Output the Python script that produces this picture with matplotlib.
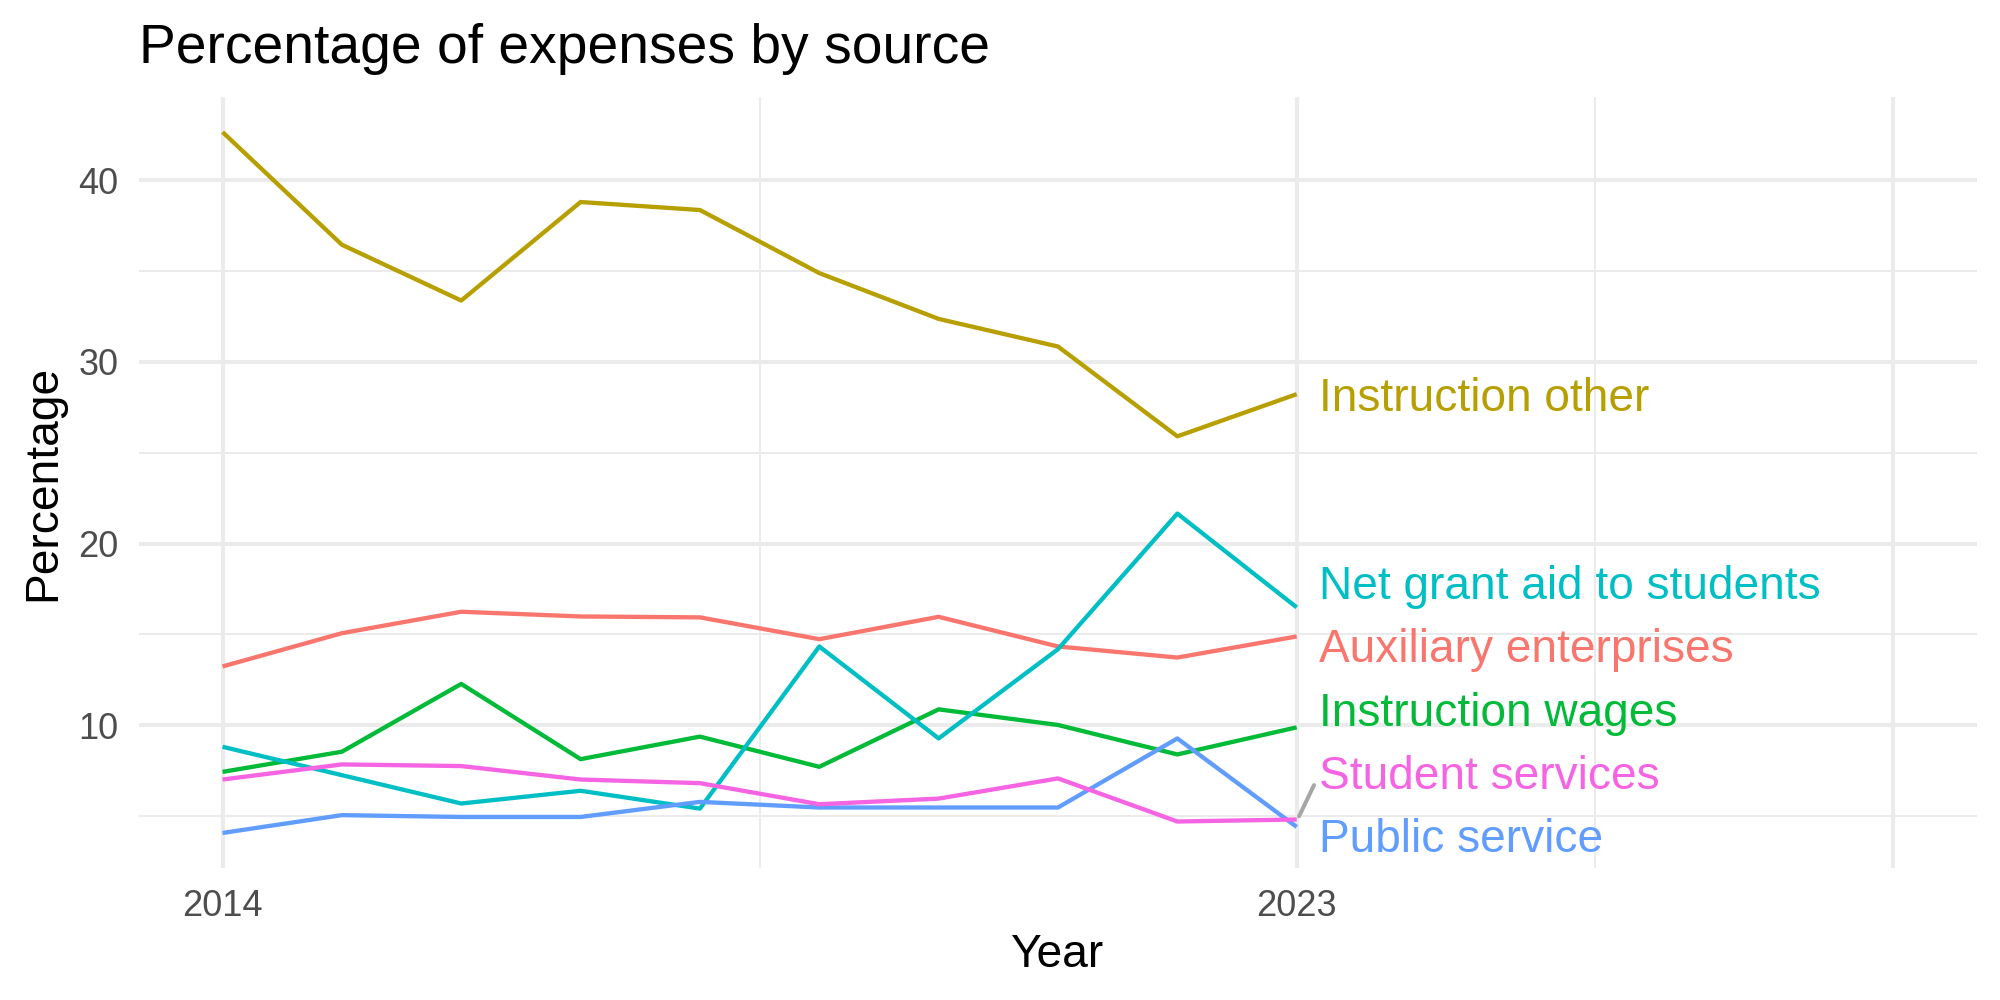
import matplotlib
matplotlib.use("Agg")
import matplotlib.pyplot as plt
import numpy as np

plt.rcParams['font.family'] = ['Liberation Sans', 'DejaVu Sans']

# data
years = [2014, 2015, 2016, 2017, 2018, 2019, 2020, 2021, 2022, 2023]
auxiliary = [13.24, 15.07, 16.25, 15.99, 15.94, 14.74, 15.97, 14.34, 13.73, 14.89]
instruction_other = [42.64, 36.44, 33.37, 38.79, 38.35, 34.88, 32.36, 30.84, 25.90, 28.22]
instruction_wages = [7.44, 8.55, 12.28, 8.14, 9.38, 7.72, 10.88, 10.02, 8.40, 9.89]
net_grant = [8.82, 7.26, 5.70, 6.40, 5.42, 14.34, 9.28, 14.19, 21.65, 16.49]
public_service = [4.08, 5.06, 4.96, 4.96, 5.79, 5.48, 5.48, 5.48, 9.28, 4.41]
student_services = [7.02, 7.85, 7.76, 7.02, 6.82, 5.66, 5.97, 7.08, 4.71, 4.82]

names = ["Auxiliary enterprises", "Instruction other", "Instruction wages",
         "Net grant aid to students", "Public service", "Student services"]
series = [auxiliary, instruction_other, instruction_wages,
          net_grant, public_service, student_services]
colors = ["#F8766D", "#B79F00", "#00BA38", "#00BFC4", "#619CFF", "#F564E3"]

# repelled label positions (baselines) at the right end
label_x = 2023.19
label_y = [13.48, 27.30, 9.98, 16.97, 3.03, 6.52]

x_limits = (2014, 2028)

fig = plt.figure(figsize=(10, 5), dpi=200)
ax = fig.add_axes([0.0695, 0.132, 0.919, 0.771])

for name, vals, col in zip(names, series, colors):
    ax.plot(years, vals, color=col, linewidth=1.55, solid_capstyle='butt', zorder=3)

# ggplot style expansion
allv = np.concatenate([np.array(s) for s in series])
ymin, ymax = allv.min(), allv.max()
yr = ymax - ymin
ax.set_ylim(ymin - 0.05 * yr, ymax + 0.05 * yr)
xr = x_limits[1] - x_limits[0]
ax.set_xlim(x_limits[0] - 0.05 * xr, x_limits[1] + 0.05 * xr)

ax.set_xticks([2014, 2023, 2028])
ax.set_xticklabels(["2014", "2023", ""])
ax.set_xticks([2018.5, 2025.5], minor=True)
ax.set_yticks([10, 20, 30, 40])
ax.set_yticks([5, 15, 25, 35], minor=True)

ax.grid(which='major', color='#EBEBEB', linewidth=1.45)
ax.grid(which='minor', color='#EBEBEB', linewidth=0.72)
ax.set_axisbelow(True)
for sp in ax.spines.values():
    sp.set_visible(False)
ax.tick_params(which='both', length=0)
ax.tick_params(axis='x', labelsize=13, labelcolor='#4D4D4D', pad=7.5)
ax.tick_params(axis='y', labelsize=13, labelcolor='#4D4D4D', pad=7.5)

# labels at line ends
for name, ly, col in zip(names, label_y, colors):
    ax.text(label_x, ly, name, color=col, fontsize=16.55, ha='left', va='baseline',
            clip_on=False, zorder=4)

# ggrepel segment for Student services
ss_idx = names.index("Student services")
ax.plot([years[-1] + 0.02, label_x - 0.045],
        [student_services[-1] + 0.18, label_y[ss_idx] + 0.19],
        color='#A6A6A6', linewidth=1.45, solid_capstyle='round', zorder=4)

ax.set_xlabel("Year", fontsize=16.6)
ax.xaxis.label.set_va('baseline')
ax.xaxis.set_label_coords(0.5, -0.1284)
ax.set_ylabel("Percentage", fontsize=16.6)
ax.yaxis.label.set_va('baseline')
ax.yaxis.set_label_coords(-0.0457, 0.5)

ax.set_title("Percentage of expenses by source", loc='left', fontsize=19.85,
             y=1.0445, va='baseline', pad=0)

fig.savefig("out.png", dpi=200, facecolor='white')
